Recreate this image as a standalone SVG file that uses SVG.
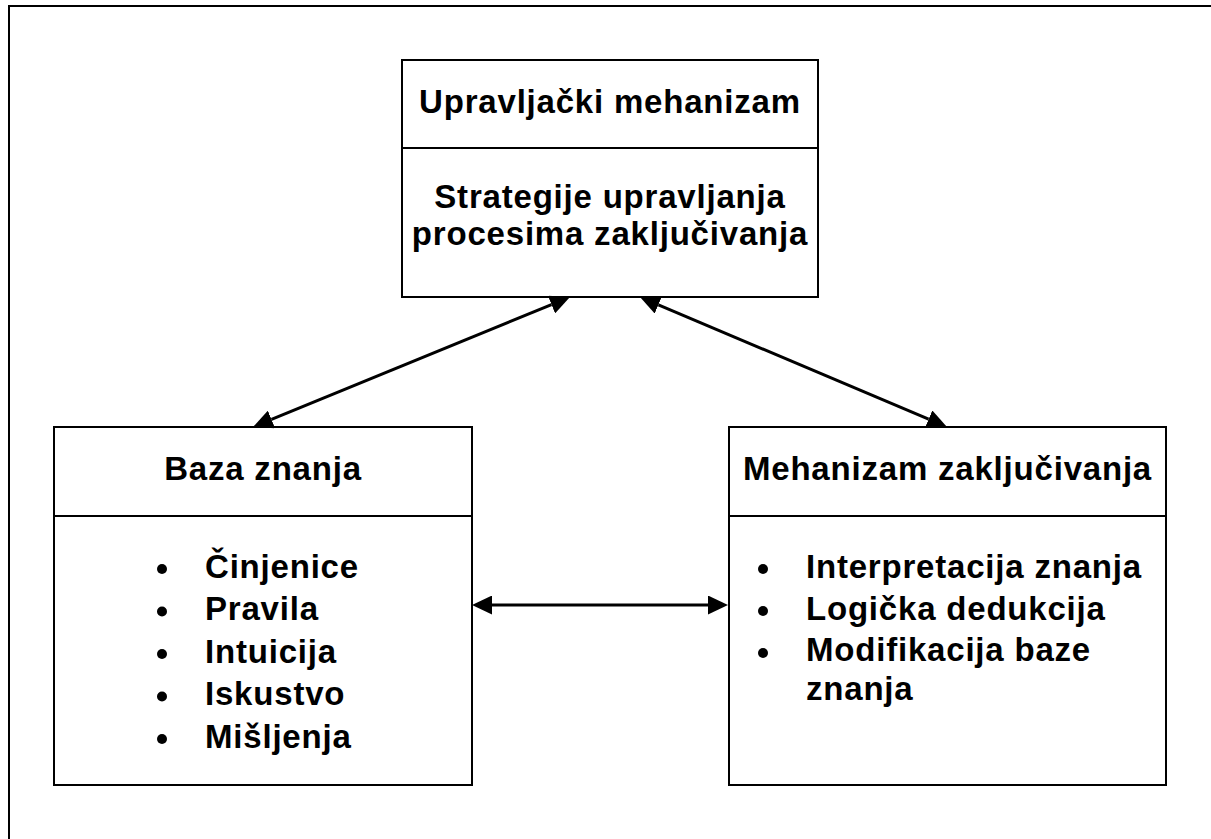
<svg xmlns="http://www.w3.org/2000/svg" width="1211" height="839" viewBox="0 0 1211 839">
<defs>
<style>
.box{fill:#fff;stroke:#000;stroke-width:2}
.div{stroke:#000;stroke-width:2}
.t{font-family:"Liberation Sans",Arial,sans-serif;font-weight:bold;font-size:33px;fill:#000;letter-spacing:0.8px}
.c{text-anchor:middle}
.con{stroke:#000;stroke-width:3;fill:none;marker-start:url(#ah);marker-end:url(#ah)}
</style>
<marker id="ah" markerUnits="userSpaceOnUse" markerWidth="20" markerHeight="19" viewBox="0 0 20 19" refX="0" refY="9.5" orient="auto-start-reverse">
<path d="M0,0 L20,9.5 L0,19 z" fill="#000"/>
</marker>
</defs>
<rect width="1211" height="839" fill="#fff"/>
<path d="M9,839 V6 H1211" fill="none" stroke="#000" stroke-width="2"/>
<g id="upravljacki">
<rect class="box" x="402" y="60" width="416" height="237"/>
<line class="div" x1="402" y1="148" x2="818" y2="148"/>
<text class="t c" x="610" y="113">Upravljački mehanizam</text>
<text class="t c" x="610" y="208">Strategije upravljanja</text>
<text class="t c" x="610" y="245">procesima zaključivanja</text>
</g>
<g id="baza">
<rect class="box" x="54" y="427" width="418" height="358"/>
<line class="div" x1="54" y1="516" x2="472" y2="516"/>
<text class="t c" x="263" y="480">Baza znanja</text>
<circle cx="162" cy="569" r="5"/>
<circle cx="162" cy="611.5" r="5"/>
<circle cx="162" cy="654" r="5"/>
<circle cx="162" cy="696.5" r="5"/>
<circle cx="162" cy="739" r="5"/>
<text class="t" x="205" y="577.5">Činjenice</text>
<text class="t" x="205" y="620">Pravila</text>
<text class="t" x="205" y="662.5">Intuicija</text>
<text class="t" x="205" y="705">Iskustvo</text>
<text class="t" x="205" y="747.5">Mišljenja</text>
</g>
<g id="mehanizam">
<rect class="box" x="729" y="427" width="437" height="358"/>
<line class="div" x1="729" y1="516" x2="1166" y2="516"/>
<text class="t c" x="947.5" y="480">Mehanizam zaključivanja</text>
<circle cx="763" cy="569" r="5"/>
<circle cx="763" cy="611" r="5"/>
<circle cx="763" cy="653" r="5"/>
<text class="t" x="806" y="577.5">Interpretacija znanja</text>
<text class="t" x="806" y="619.5">Logička dedukcija</text>
<text class="t" x="806" y="661">Modifikacija baze</text>
<text class="t" x="806" y="700">znanja</text>
</g>
<g id="connectors">
<line class="con" x1="551.5" y1="304.6" x2="271.5" y2="419.4"/>
<line class="con" x1="658.4" y1="304.8" x2="928.6" y2="419.2"/>
<line class="con" x1="492" y1="605" x2="708" y2="605"/>
</g>
</svg>
